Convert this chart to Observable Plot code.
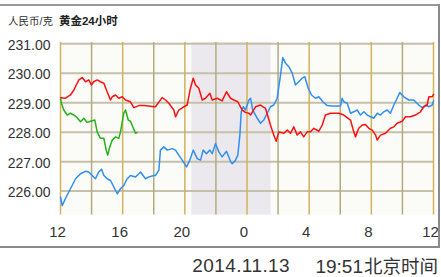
<!DOCTYPE html>
<html>
<head>
<meta charset="utf-8">
<script src="https://cdn.jsdelivr.net/npm/d3@7"></script>
<script src="https://cdn.jsdelivr.net/npm/@observablehq/plot@0.6"></script>
<style>
  html, body { margin: 0; padding: 0; background: #fff; }
  #wrap { position: relative; width: 441px; height: 277px; overflow: hidden;
          font-family: "Liberation Sans", Arial, "Noto Sans CJK SC", sans-serif; color: #333; }
  .ln { position: absolute; background: #9a9a9a; }
  #title { position: absolute; left: 8px; top: 15px; line-height: 12px; font-size: 10.5px; color: #333; white-space: pre; }
  #title b { font-size: 11.5px; color: #222; margin-left: 6px; }
  .cap { position: absolute; top: 256px; line-height: 19px; font-size: 19px; color: #333; white-space: pre; text-align: right; }
  #chart { position: absolute; left: 0; top: 0; }
</style>
</head>
<body>
<div id="wrap">
  <div id="chart"></div>
  <div class="ln" style="left:0;top:4px;width:440px;height:2px;"></div>
  <div class="ln" style="left:438px;top:4px;width:2px;height:244px;background:#8a8a8a;"></div>
  <div class="ln" style="left:0;top:246px;width:440px;height:2px;background:#8a8a8a;"></div>
  <div id="title">人民币/克<b>黄金24小时</b></div>
  <div class="cap" style="right:151px;letter-spacing:0.4px;">2014.11.13</div>
  <div class="cap" style="right:3px;">19:51<span style="margin-left:1px;font-size:18.5px;font-family:'Noto Sans CJK SC',sans-serif;">北京时间</span></div>
</div>
<script>
// hours since 12:00 (0..24), price in CNY/gram
const redSeries = [
  [0.00,229.17],[0.32,229.15],[0.64,229.26],[0.86,229.43],[1.18,229.77],[1.40,229.85],[1.61,229.71],[1.82,229.77],
  [1.99,229.60],[2.14,229.71],[2.36,229.77],[2.57,229.71],[2.79,229.66],[3.00,229.37],[3.22,229.09],[3.33,229.20],
  [3.54,229.26],[3.75,229.15],[3.97,229.20],[4.18,229.09],[4.50,229.03],[4.72,228.83],[5.04,228.90],[5.36,228.90],
  [5.68,228.89],[6.00,228.86],[6.11,228.86],[6.54,229.17],[6.76,229.09],[6.97,228.98],[7.29,228.75],[7.40,228.52],
  [7.61,228.75],[7.93,228.86],[8.15,228.92],[8.36,229.49],[8.54,229.83],[8.69,229.60],[8.90,229.49],[9.12,229.09],
  [9.33,229.15],[9.61,229.32],[9.76,229.09],[10.08,229.15],[10.40,229.06],[10.68,229.37],[10.94,229.15],[11.15,229.09],
  [11.41,229.03],[11.69,228.75],[11.90,228.67],[12.12,228.64],[12.23,228.58],[12.55,228.86],[12.87,228.92],[13.19,228.81],
  [13.51,228.24],[13.72,227.90],[13.88,227.69],[14.05,228.01],[14.37,227.96],[14.59,228.07],[14.80,227.96],[15.01,228.18],
  [15.23,227.90],[15.44,228.01],[15.65,227.84],[15.87,228.01],[16.09,228.01],[16.30,228.13],[16.62,228.03],[16.84,228.24],
  [17.05,228.58],[17.37,228.64],[17.91,228.64],[18.23,228.58],[18.66,228.41],[18.87,228.01],[18.98,227.84],[19.19,228.13],
  [19.41,228.24],[19.62,228.26],[19.84,228.13],[20.06,228.07],[20.27,227.90],[20.38,227.73],[20.59,227.90],[20.91,227.96],
  [21.23,228.13],[21.45,228.18],[21.66,228.30],[21.99,228.37],[22.20,228.52],[22.52,228.52],[22.84,228.58],[23.16,228.69],
  [23.38,228.86],[23.59,228.92],[23.70,229.20],[23.92,229.20],[24.00,229.28]
];
const blueSeries = [
  [0.00,225.80],[0.11,225.51],[0.32,225.75],[0.53,225.97],[0.75,226.19],[0.97,226.42],[1.29,226.59],[1.61,226.67],
  [1.82,226.65],[2.04,226.53],[2.25,226.42],[2.46,226.65],[2.64,226.74],[2.79,226.53],[3.00,226.42],[3.22,226.36],
  [3.43,226.14],[3.65,225.91],[3.86,226.08],[4.07,226.19],[4.29,226.42],[4.50,226.53],[4.83,226.48],[5.15,226.65],
  [5.47,226.42],[5.68,226.48],[6.00,226.53],[6.11,226.53],[6.33,226.71],[6.43,227.39],[6.65,227.50],[6.87,227.39],
  [7.19,227.44],[7.40,227.39],[7.61,227.22],[7.83,227.05],[8.11,226.82],[8.32,227.05],[8.54,227.39],[8.80,227.10],
  [9.01,227.05],[9.18,227.39],[9.39,227.27],[9.61,227.39],[9.76,227.27],[9.97,227.61],[10.19,227.33],[10.40,227.16],
  [10.68,227.35],[10.94,227.01],[11.05,226.93],[11.26,227.05],[11.41,227.22],[11.54,227.90],[11.63,228.69],[11.76,228.86],
  [11.90,228.75],[12.12,229.09],[12.23,229.15],[12.37,228.75],[12.66,228.47],[12.87,228.30],[13.08,228.41],[13.30,228.64],
  [13.51,228.86],[13.72,228.92],[13.94,229.15],[14.16,229.94],[14.30,230.53],[14.48,230.34],[14.69,230.22],[14.91,230.00],
  [15.12,229.60],[15.33,229.71],[15.55,229.83],[15.72,229.88],[15.94,229.49],[16.15,229.26],[16.41,229.15],[16.62,229.20],
  [16.88,229.03],[17.16,228.90],[17.48,228.89],[18.02,228.89],[18.12,229.15],[18.23,229.03],[18.45,228.98],[18.66,228.64],
  [18.87,228.69],[19.09,228.75],[19.30,228.58],[19.52,228.69],[19.73,228.58],[19.95,228.52],[20.16,228.47],[20.38,228.64],
  [20.59,228.58],[20.80,228.69],[21.02,228.75],[21.23,228.64],[21.45,228.92],[21.66,229.15],[21.83,229.34],[22.09,229.20],
  [22.41,229.09],[22.73,229.09],[23.05,228.92],[23.27,228.83],[23.49,228.92],[23.70,228.86],[23.92,228.92],[24.00,229.06]
];
const greenSeries = [
  [0.00,229.12],[0.06,228.98],[0.21,228.75],[0.43,228.58],[0.64,228.64],[0.86,228.58],[1.07,228.49],[1.29,228.35],
  [1.50,228.47],[1.72,228.33],[1.93,228.37],[2.21,228.41],[2.36,228.01],[2.57,227.79],[2.79,227.79],[2.94,227.39],
  [3.04,227.22],[3.17,227.50],[3.33,227.73],[3.54,227.84],[3.75,227.79],[3.86,228.01],[4.07,228.64],[4.18,228.75],
  [4.36,228.41],[4.50,228.37],[4.65,228.18],[4.83,227.96],[4.94,227.99]
];
const shadedSpan = [{start: 8.45, end: 13.55}];
const yTicks = [226, 227, 228, 229, 230, 231];
const xTicks = [0, 4, 8, 12, 16, 20, 24];
const xTickLabels = ["12", "16", "20", "0", "4", "8", "12"];
const gridMajor = [0, 4, 8, 12, 16, 20, 24];
const gridMinor = [2, 6, 10, 14, 18, 22];

const chart = Plot.plot({
  width: 441,
  height: 247,
  marginTop: 42,
  marginBottom: 32.5,
  marginLeft: 60,
  marginRight: 8,
  style: {background: "transparent", fontFamily: "'Liberation Sans', Arial, sans-serif", color: "#333"},
  x: {domain: [0, 24]},
  y: {domain: [225.19, 231.04]},
  marks: [
    Plot.frame({fill: "#fbfcf7", stroke: null}),
    Plot.rect(shadedSpan, {x1: "start", x2: "end", fill: "#ebe9ed"}),
    Plot.ruleY(yTicks, {stroke: "#c5c0aa", strokeWidth: 2}),
    Plot.ruleX(gridMinor, {stroke: "#b3aa80", strokeWidth: 1.5}),
    Plot.ruleX(gridMajor, {stroke: "#d2b25a", strokeWidth: 1.5}),
    Plot.line(greenSeries, {x: d => d[0], y: d => d[1], stroke: "#22b318", strokeWidth: 1.5}),
    Plot.line(blueSeries, {x: d => d[0], y: d => d[1], stroke: "#2f8ff5", strokeWidth: 1.5}),
    Plot.line(redSeries, {x: d => d[0], y: d => d[1], stroke: "#ff1010", strokeWidth: 1.5}),
    Plot.axisX(xTicks, {tickSize: 0, tickPadding: 11, fontSize: 15, fill: "#333", dx: -3,
      tickFormat: d => xTickLabels[xTicks.indexOf(d)]}),
    Plot.axisY(yTicks, {tickSize: 0, tickPadding: 10, fontSize: 14, fill: "#333", dy: 1.5,
      tickFormat: d => d.toFixed(2)})
  ]
});
document.getElementById("chart").appendChild(chart);
</script>
</body>
</html>
